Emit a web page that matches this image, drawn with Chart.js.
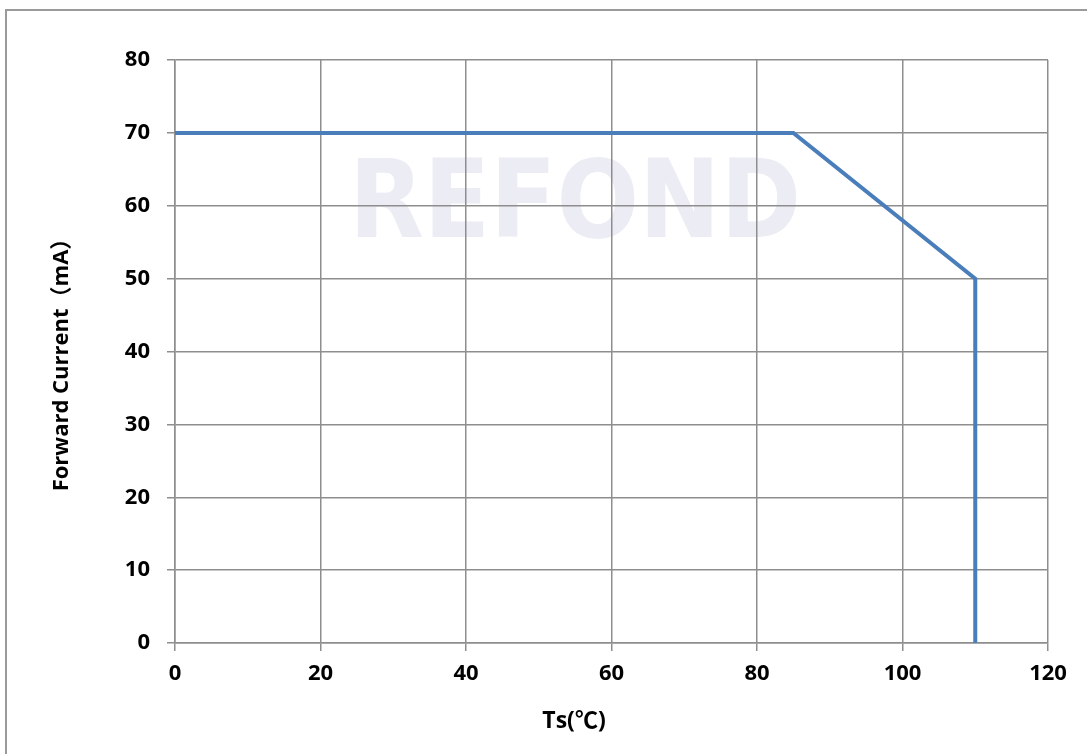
<!DOCTYPE html>
<html>
<head>
<meta charset="utf-8">
<script src="https://cdn.jsdelivr.net/npm/chart.js@4"></script>
<style>
  html, body { margin: 0; padding: 0; background: #fff; }
  #wrap { width: 1087px; height: 754px; }
</style>
</head>
<body>
<div id="wrap"><canvas id="derating" width="1087" height="754"></canvas></div>
<script>
// derating curve: temperature (Ts, °C) vs max forward current (mA)
const tempX = [0, 85, 110, 110];
const currentY = [70, 70, 50, 0];
const xTickStep = 20;
const yTickStep = 10;
const xTitle = 'Ts(℃)';
const yTitle = 'Forward Current（mA）';
const watermark = 'REFOND';

const gridGray = '#8e8e8e';
const lineBlue = '#4a7ebb';

const extras = {
  id: 'extras',
  beforeDraw(chart) {
    const ctx = chart.ctx;
    ctx.save();
    // outer frame (only top and left edges are visible)
    ctx.strokeStyle = '#9a9a9a';
    ctx.lineWidth = 2;
    ctx.beginPath();
    ctx.moveTo(6, 760);
    ctx.lineTo(6, 10);
    ctx.lineTo(1090, 10);
    ctx.stroke();
    // faint watermark
    ctx.fillStyle = '#ececf4';
    ctx.font = 'bold 108px "DejaVu Sans Condensed", "DejaVu Sans"';
    ctx.textAlign = 'center';
    ctx.textBaseline = 'alphabetic';
    ctx.fillText(watermark, 575, 237);
    ctx.restore();
  },
  afterDraw(chart) {
    const ctx = chart.ctx;
    const area = chart.chartArea;
    ctx.save();
    ctx.fillStyle = '#000';
    ctx.textAlign = 'center';
    ctx.textBaseline = 'middle';
    ctx.font = '700 23px "Open Sans", "Noto Sans CJK SC", sans-serif';
    ctx.fillText(xTitle, 574, 721);
    ctx.translate(62, (area.top + area.bottom) / 2 + 8);
    ctx.rotate(-Math.PI / 2);
    ctx.font = '700 22px "Open Sans", "Noto Sans CJK SC", sans-serif';
    ctx.fillText(yTitle, 0, 0);
    ctx.restore();
  }
};

const tickFont = { family: '"Open Sans"', weight: 'bold', size: 22 };

const ctx = document.getElementById('derating').getContext('2d');
new Chart(ctx, {
  type: 'line',
  data: {
    datasets: [{
      data: tempX.map((t, i) => ({ x: t, y: currentY[i] })),
      borderColor: lineBlue,
      borderWidth: 4,
      pointRadius: 0,
      tension: 0,
      fill: false,
      clip: 6
    }]
  },
  options: {
    responsive: false,
    animation: false,
    devicePixelRatio: 1,
    layout: { padding: { top: 60, right: 39, left: 0, bottom: 0 } },
    plugins: { legend: { display: false }, tooltip: { enabled: false } },
    scales: {
      x: {
        type: 'linear',
        min: 0,
        max: 120,
        ticks: { stepSize: xTickStep, color: '#000', padding: 10, font: tickFont },
        grid: { color: gridGray, lineWidth: 1.5, tickLength: 8 },
        border: { color: gridGray, width: 1.5 },
        afterFit(scale) { scale.height = 111; }
      },
      y: {
        min: 0,
        max: 80,
        ticks: { stepSize: yTickStep, color: '#000', padding: 17, font: tickFont },
        grid: { color: gridGray, lineWidth: 1.5, tickLength: 8 },
        border: { color: gridGray, width: 1.5 },
        afterFit(scale) { scale.width = 175; }
      }
    }
  },
  plugins: [extras]
});
</script>
</body>
</html>
